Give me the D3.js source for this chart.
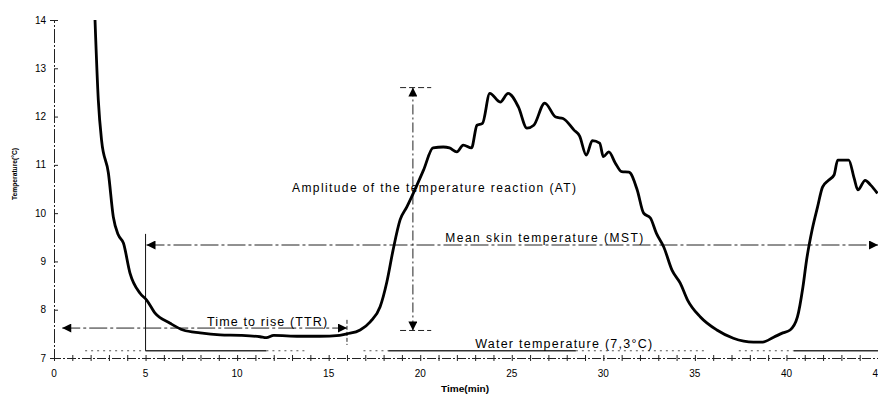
<!DOCTYPE html>
<html>
<head>
<meta charset="utf-8">
<script src="https://cdn.jsdelivr.net/npm/d3@7"></script>
<style>
    body { margin: 0; background: #fff; }
    text { font-family: "Liberation Sans", Arial, sans-serif; fill: #000; }
</style>
</head>
<body>
<div id="chart"></div>
<script>
// skin temperature curve
var timeMin = [2.24, 2.42, 2.6, 2.97, 3.24, 3.51, 3.79, 4.15, 4.7, 5.06, 5.52, 6.34, 7.05, 7.98, 9.07, 10.2, 11.26, 11.6, 12.0, 13.4, 14.5, 15.6, 16.0,
    16.72, 17.27, 17.81, 18.18, 18.52, 18.9, 19.27, 19.62, 20.18, 20.7, 21.26, 21.6, 22.0, 22.35, 22.8, 23.1, 23.4, 23.8, 24.37, 24.8, 25.36, 25.83,
    26.2, 26.8, 27.4, 27.8, 28.4, 28.7, 29.07, 29.4, 29.8, 30.0, 30.3, 30.65, 31.0, 31.4, 31.85, 32.2, 32.57, 32.9, 33.3, 33.75, 34.2, 34.6, 35.3,
    36.2, 37.1, 38.2, 38.7, 39.3, 39.8, 40.2, 40.6, 40.9, 41.1, 41.4, 41.7, 41.97, 42.3, 42.6, 42.8, 43.4, 43.7, 43.9, 44.3, 44.6, 44.97];
var skinTemp = [14.0, 12.34, 11.5, 10.83, 9.92, 9.55, 9.38, 8.76, 8.34, 8.2, 7.93, 7.72, 7.58, 7.52, 7.48, 7.47, 7.44, 7.42, 7.47, 7.45, 7.45, 7.47, 7.5,
    7.58, 7.75, 8.06, 8.58, 9.24, 9.86, 10.13, 10.41, 10.89, 11.35, 11.37, 11.35, 11.27, 11.41, 11.35, 11.82, 11.86, 12.48, 12.3, 12.48, 12.2, 11.76,
    11.82, 12.28, 11.99, 11.96, 11.72, 11.6, 11.2, 11.5, 11.45, 11.17, 11.27, 11.04, 10.86, 10.85, 10.48, 10.0, 9.9, 9.58, 9.3, 8.82, 8.55, 8.2, 7.85,
    7.58, 7.41, 7.33, 7.33, 7.43, 7.52, 7.58, 7.85, 8.47, 9.03, 9.65, 10.13, 10.54, 10.68, 10.79, 11.1, 11.1, 10.72, 10.48, 10.68, 10.58, 10.41];

var xTicks = [0, 5, 10, 15, 20, 25, 30, 35, 40, 45];
var yTicks = [7, 8, 9, 10, 11, 12, 13, 14];

// annotation levels (minutes / degrees)
var mstLevel = 9.34, mstSpan = [5.05, 45];
var ttrLevel = 7.62, ttrSpan = [0.45, 16];
var atTime = 19.6, atSpan = [7.57, 12.6];
var startTime = 5, startSpan = [7.15, 9.57];
var waterLevel = 7.15;
var waterSolid = [[5, 11.6], [18.25, 28.5], [40.4, 45]];
var waterDotted = [[1.7, 5], [11.6, 13.7], [16.9, 18.25], [28.5, 35.5], [37.4, 40.4]];

var svg = d3.select("#chart").append("svg").attr("width", 878).attr("height", 396);

var margin = { top: 20, right: 0, bottom: 38, left: 54 };
var width = +svg.attr("width") - margin.left - margin.right;
var height = +svg.attr("height") - margin.top - margin.bottom;

var x = d3.scaleLinear().domain([0, 45]).range([margin.left, margin.left + width]);
var y = d3.scaleLinear().domain([7, 14]).range([margin.top + height, margin.top]);

svg.append("defs").append("marker")
    .attr("id", "arrow")
    .attr("viewBox", "0 0 10 10")
    .attr("refX", 10).attr("refY", 5)
    .attr("markerUnits", "userSpaceOnUse")
    .attr("markerWidth", 10).attr("markerHeight", 9)
    .attr("orient", "auto-start-reverse")
    .append("path").attr("d", "M0,0L10,5L0,10Z").attr("fill", "#000");

// axes
var xAxis = d3.axisBottom(x).tickValues(d3.range(0, 46, 1)).tickSize(3).tickFormat("");
var gx = svg.append("g").attr("transform", "translate(0," + y(7) + ")").call(xAxis);
gx.selectAll(".tick line").attr("y1", -3).attr("stroke", "#222");
gx.select(".domain").attr("stroke", "#222").attr("stroke-dasharray", "9,2,2,2");
xTicks.forEach(function (t) {
    svg.append("text").attr("x", x(t)).attr("y", y(7) + 19)
        .attr("text-anchor", "middle").attr("font-size", 10).text(t);
});

var yAxis = d3.axisLeft(y).tickValues(yTicks).tickSize(4).tickFormat("");
var gy = svg.append("g").attr("transform", "translate(" + x(0) + ",0)").call(yAxis);
gy.selectAll(".tick line").attr("x2", 4).attr("stroke", "#222");
gy.select(".domain").attr("stroke", "#222").attr("stroke-dasharray", "14,2,2,2");
yTicks.forEach(function (t) {
    svg.append("text").attr("x", x(0) - 8).attr("y", y(t) + 3.5)
        .attr("text-anchor", "end").attr("font-size", 10).text(t);
});

svg.append("text")
    .attr("transform", "translate(17," + 174 + ") rotate(-90)")
    .attr("text-anchor", "middle").attr("font-size", 8).attr("font-weight", "bold")
    .attr("textLength", 52).attr("lengthAdjust", "spacingAndGlyphs")
    .text("Temperature(°C)");

svg.append("text")
    .attr("x", 465).attr("y", 392)
    .attr("text-anchor", "middle").attr("font-size", 9).attr("font-weight", "bold")
    .attr("textLength", 48).attr("lengthAdjust", "spacingAndGlyphs")
    .text("Time(min)");

// water temperature line
waterSolid.forEach(function (s) {
    svg.append("line").attr("x1", x(s[0])).attr("x2", x(s[1])).attr("y1", y(waterLevel)).attr("y2", y(waterLevel))
        .attr("stroke", "#333").attr("stroke-width", 1.3);
});
waterDotted.forEach(function (s) {
    svg.append("line").attr("x1", x(s[0])).attr("x2", x(s[1])).attr("y1", y(waterLevel)).attr("y2", y(waterLevel))
        .attr("stroke", "#555").attr("stroke-width", 1).attr("stroke-dasharray", "2,4");
});

// start of immersion
svg.append("line").attr("x1", x(startTime)).attr("x2", x(startTime))
    .attr("y1", y(startSpan[1])).attr("y2", y(startSpan[0]))
    .attr("stroke", "#111").attr("stroke-width", 1);

// MST arrow
svg.append("line").attr("x1", x(mstSpan[0])).attr("x2", x(mstSpan[1]))
    .attr("y1", y(mstLevel)).attr("y2", y(mstLevel))
    .attr("stroke", "#222").attr("stroke-width", 1).attr("stroke-dasharray", "18,3,3,3")
    .attr("marker-start", "url(#arrow)").attr("marker-end", "url(#arrow)");

// TTR arrow
svg.append("line").attr("x1", x(ttrSpan[0])).attr("x2", x(ttrSpan[1]))
    .attr("y1", y(ttrLevel)).attr("y2", y(ttrLevel))
    .attr("stroke", "#222").attr("stroke-width", 1).attr("stroke-dasharray", "18,3,3,3")
    .attr("marker-start", "url(#arrow)").attr("marker-end", "url(#arrow)");
svg.append("line").attr("x1", x(ttrSpan[1])).attr("x2", x(ttrSpan[1]))
    .attr("y1", y(7.79)).attr("y2", y(7.27))
    .attr("stroke", "#222").attr("stroke-width", 1).attr("stroke-dasharray", "4,2");

// AT arrow
svg.append("line").attr("x1", x(atTime)).attr("x2", x(atTime))
    .attr("y1", y(atSpan[0])).attr("y2", y(atSpan[1]))
    .attr("stroke", "#222").attr("stroke-width", 1).attr("stroke-dasharray", "10,3,2,3")
    .attr("marker-start", "url(#arrow)").attr("marker-end", "url(#arrow)");
atSpan.forEach(function (v) {
    svg.append("line").attr("x1", x(atTime - 0.7)).attr("x2", x(atTime + 1.0))
        .attr("y1", y(v)).attr("y2", y(v))
        .attr("stroke", "#222").attr("stroke-width", 1).attr("stroke-dasharray", "6,3");
});

// skin temperature curve
var line = d3.line()
    .x(function (d) { return x(d[0]); })
    .y(function (d) { return y(d[1]); })
    .curve(d3.curveMonotoneX);

svg.append("path")
    .datum(d3.zip(timeMin, skinTemp))
    .attr("fill", "none")
    .attr("stroke", "#000")
    .attr("stroke-width", 2.8)
    .attr("stroke-linejoin", "round")
    .attr("d", line);

// annotation labels
svg.append("text").attr("x", x(13.0)).attr("y", y(10.44)).attr("font-size", 12)
    .attr("textLength", 284).attr("lengthAdjust", "spacing")
    .text("Amplitude of the temperature reaction (AT)");
svg.append("text").attr("x", x(21.37)).attr("y", y(9.4)).attr("font-size", 12)
    .attr("textLength", 198).attr("lengthAdjust", "spacing")
    .text("Mean skin temperature (MST)");
svg.append("text").attr("x", x(8.36)).attr("y", y(7.66)).attr("font-size", 12.5)
    .attr("textLength", 120).attr("lengthAdjust", "spacing")
    .text("Time to rise (TTR)");
svg.append("text").attr("x", x(23.0)).attr("y", y(7.2)).attr("font-size", 12.5)
    .attr("textLength", 177).attr("lengthAdjust", "spacing")
    .text("Water temperature (7,3°C)");
</script>
</body>
</html>
